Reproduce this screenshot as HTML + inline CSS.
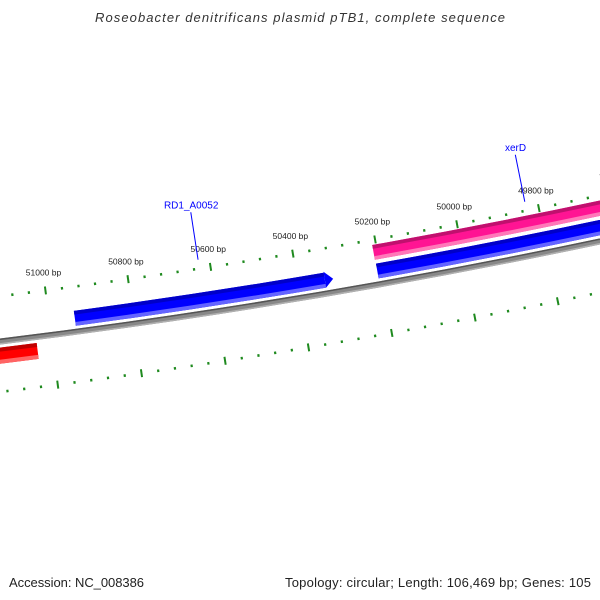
<!DOCTYPE html>
<html><head><meta charset="utf-8"><style>
html,body{margin:0;padding:0;background:#fff}
svg{display:block;font-family:"Liberation Sans",sans-serif}
</style></head><body>
<svg id="map" width="600" height="600" viewBox="0 0 600 600">
<text x="300" y="22" text-anchor="middle" font-size="13" font-style="italic" fill="#333" textLength="410">Roseobacter denitrificans plasmid pTB1, complete sequence</text>
<g id="rings"></g>
<text x="9" y="587" font-size="13" fill="#222" textLength="135">Accession: NC_008386</text>
<text x="591" y="587" font-size="13" fill="#222" text-anchor="end" textLength="306">Topology: circular; Length: 106,469 bp; Genes: 105</text>
</svg>
<script>
const seqLength = 106469;
const tickRange = [48600, 52600];
const majorStep = 200;
const minorStep = 40;
const geneNames = ["RD1_A0052", "xerD", "gene-blue-2", "gene-red"];
const geneStarts = [50939, 50209, 50208, 52400];
const geneEnds = [50315, 49451, 48800, 51037];
const geneSlots = ["fwd1", "fwd2", "fwd1", "rev1"];
const geneColors = ["blue", "pink", "blue", "red"];
const labelledGenes = ["RD1_A0052", "xerD"];

const CX=-870, CY=-6715, R0=7110, A0=79.85, DEG=360/seqLength;
const NS="http://www.w3.org/2000/svg";
const g=document.getElementById('rings');
function ang(bp){return (A0+(bp-50200)*DEG)*Math.PI/180;}
function pt(bp,r){const a=ang(bp);return [CX+r*Math.cos(a), CY+r*Math.sin(a)];}
function band(b1,b2,r1,r2,fill,name){
  const s=ang(b2)>ang(b1)?1:0;
  const p1=pt(b1,r1),p2=pt(b2,r1),p3=pt(b2,r2),p4=pt(b1,r2);
  const p=document.createElementNS(NS,'path');
  p.setAttribute('d',`M${p1} A${r1} ${r1} 0 0 ${s} ${p2} L${p3} A${r2} ${r2} 0 0 ${1-s} ${p4}Z`);
  p.setAttribute('fill',fill);
  
  
  g.appendChild(p);return p;
}
const palette={blue:["#0000c8","#0000ff","#6464ff"],pink:["#c0106e","#ff1493","#ff78b8"],red:["#c00000","#ff0000","#ff6464"]};
const slots={fwd1:[R0-21,R0-6],fwd2:[R0-40,R0-25],rev1:[R0+6,R0+22]};

// backbone
band(tickRange[1],tickRange[0],R0-3,R0+3,"#888","backbone");
band(tickRange[1],tickRange[0],R0-3,R0-1.5,"#555","backbone-edge");
band(tickRange[1],tickRange[0],R0+1.5,R0+3,"#b0b0b0","backbone-shadow");

// ticks
function tickRing(rc,labels,ringName){
  for(let bp=Math.ceil(tickRange[0]/minorStep)*minorStep; bp<=tickRange[1]; bp+=minorStep){
    const major=bp%majorStep===0;
    const h=major?4:1.3;
    const a=pt(bp,rc-h),b=pt(bp,rc+h);
    const l=document.createElementNS(NS,'line');
    l.setAttribute('x1',a[0]);l.setAttribute('y1',a[1]);l.setAttribute('x2',b[0]);l.setAttribute('y2',b[1]);
    l.setAttribute('stroke','#1f8a1f');l.setAttribute('stroke-width',major?2:2.2);
    
    
    g.appendChild(l);
    if(major&&labels){
      const t=document.createElementNS(NS,'text');const q=pt(bp,rc-15);
      t.setAttribute('x',q[0]);t.setAttribute('y',q[1]);t.setAttribute('text-anchor','middle');
      t.setAttribute('font-size','8.5');t.setAttribute('fill','#222');
      t.textContent=bp+' bp';
      
      
      g.appendChild(t);
    }
  }
}
tickRing(R0-45,true,'outer-ruler');
tickRing(R0+50,false,'inner-ruler');

// genes
for(let i=0;i<geneNames.length;i++){
  const [r1,r2]=slots[geneSlots[i]];const c=palette[geneColors[i]];
  const s=geneStarts[i], e=geneEnds[i];
  const dir=e<s?-1:1;
  const arrow=geneNames[i]==="RD1_A0052";
  const bodyEnd=arrow?e-dir*20:e;
  const th=(r2-r1)/4;
  band(s,bodyEnd,r1,r2,c[1],'gene-'+geneNames[i]);
  band(s,bodyEnd,r1,r1+th,c[0],'gene-edge');
  band(s,bodyEnd,r2-th,r2,c[2],'gene-highlight');
  if(arrow){
    const poly=document.createElementNS(NS,'polygon');
    poly.setAttribute('points',[pt(bodyEnd,r1-1),pt(e,(r1+r2)/2),pt(bodyEnd,r2)].map(p=>p.join(',')).join(' '));
    poly.setAttribute('fill',c[1]);
    
    
    g.appendChild(poly);
  }
  if(labelledGenes.includes(geneNames[i])){
    const mid=(s+e)/2;
    const a=pt(mid,R0-54),b=pt(mid,R0-102);
    const l=document.createElementNS(NS,'line');
    l.setAttribute('x1',a[0]);l.setAttribute('y1',a[1]);l.setAttribute('x2',b[0]);l.setAttribute('y2',b[1]);
    l.setAttribute('stroke','#0000ff');l.setAttribute('stroke-width','1');
    
    
    g.appendChild(l);
    const t=document.createElementNS(NS,'text');const q=pt(mid,R0-106);
    t.setAttribute('x',q[0]+1);t.setAttribute('y',q[1]);t.setAttribute('text-anchor','middle');
    t.setAttribute('font-size','10');t.setAttribute('fill','#0000ff');
    t.textContent=geneNames[i];
    
    
    g.appendChild(t);
  }
}
</script>
</body></html>
